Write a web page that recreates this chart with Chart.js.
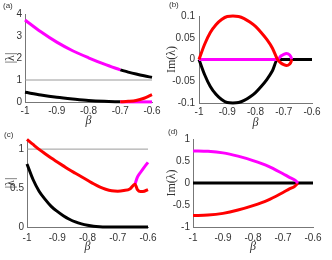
<!DOCTYPE html>
<html>
<head>
<meta charset="utf-8">
<script src="https://cdn.jsdelivr.net/npm/chart.js@4.4.1/dist/chart.umd.min.js"></script>
<style>
  body { margin: 0; background: #fff; }
  #wrap { position: relative; width: 332px; height: 260px; overflow: hidden; }
  canvas { position: absolute; }
  .lbl { position: absolute; font: 8px "Liberation Sans", Arial, sans-serif; color: #333; }
</style>
</head>
<body>
<div id="wrap">
  <canvas id="pa" width="166" height="130" style="left:0;top:0"></canvas>
  <canvas id="pb" width="166" height="130" style="left:166px;top:0"></canvas>
  <canvas id="pc" width="166" height="130" style="left:0;top:130px"></canvas>
  <canvas id="pd" width="166" height="130" style="left:166px;top:130px"></canvas>
  <div class="lbl" style="left:3px;top:1px">(a)</div>
  <div class="lbl" style="left:169px;top:0px">(b)</div>
  <div class="lbl" style="left:4px;top:130px">(c)</div>
  <div class="lbl" style="left:168px;top:127px">(d)</div>
</div>
<script>
// shared x axis
const xTicks = [-1, -0.9, -0.8, -0.7, -0.6];
const refBeta = [-1, -0.6];
const refOne = [1, 1];

// (a) |lambda|
const aYTicks = [0, 1, 2, 3, 4];
const aMagBeta = [-1, -0.95, -0.9, -0.85, -0.8, -0.75, -0.7];
const aMag = [3.73, 3.19, 2.72, 2.33, 2.01, 1.72, 1.46];
const aBlackHiBeta = [-0.7, -0.675, -0.65, -0.625, -0.6];
const aBlackHi = [1.46, 1.36, 1.27, 1.19, 1.12];
const aBlackLoBeta = [-1, -0.95, -0.9, -0.85, -0.8, -0.75, -0.7];
const aBlackLo = [0.44, 0.32, 0.22, 0.14, 0.07, 0.03, 0.01];
const aRedBeta = [-0.7, -0.675, -0.65, -0.625, -0.6];
const aRed = [0.01, 0.03, 0.07, 0.17, 0.33];
const aMagLoBeta = [-0.7, -0.6];
const aMagLo = [0.005, 0.005];

// (b) Im(lambda)
const bYTicks = [-0.1, -0.05, 0, 0.05, 0.1];
const bRedBeta = [-1, -0.98, -0.96, -0.94, -0.92, -0.9, -0.88, -0.86, -0.84, -0.82, -0.8, -0.78, -0.76, -0.74, -0.722, -0.71, -0.7, -0.69, -0.68, -0.674, -0.672];
const bRed = [0, 0.035, 0.062, 0.08, 0.092, 0.099, 0.1, 0.099, 0.094, 0.086, 0.076, 0.062, 0.046, 0.026, 0, -0.008, -0.012, -0.014, -0.011, -0.005, 0];
const bBlackBeta = [-1, -0.98, -0.96, -0.94, -0.92, -0.9, -0.88, -0.86, -0.84, -0.82, -0.8, -0.78, -0.76, -0.74, -0.722, -0.6];
const bBlack = [0, -0.035, -0.062, -0.08, -0.092, -0.099, -0.1, -0.099, -0.094, -0.086, -0.076, -0.062, -0.046, -0.026, 0, 0];
const bMagBeta = [-1, -0.722, -0.71, -0.7, -0.69, -0.68, -0.674, -0.672];
const bMag = [0, 0, 0.008, 0.012, 0.014, 0.011, 0.005, 0];

// (c) |lambda|
const cYTicks = [0, 0.5, 1];
const cRedBeta = [-1, -0.98, -0.96, -0.94, -0.92, -0.9, -0.88, -0.86, -0.84, -0.82, -0.8, -0.78, -0.76, -0.74, -0.72, -0.7, -0.68, -0.66, -0.643, -0.635, -0.625, -0.612, -0.6];
const cRed = [1.125, 1.06, 0.997, 0.94, 0.885, 0.835, 0.785, 0.735, 0.69, 0.645, 0.6, 0.555, 0.515, 0.485, 0.465, 0.46, 0.468, 0.488, 0.55, 0.48, 0.455, 0.46, 0.48];
const cMagBeta = [-0.643, -0.635, -0.625, -0.614, -0.6];
const cMag = [0.55, 0.64, 0.7, 0.76, 0.83];
const cBlackBeta = [-1, -0.98, -0.96, -0.94, -0.92, -0.9, -0.88, -0.86, -0.84, -0.82, -0.8, -0.78, -0.76, -0.74, -0.7, -0.6];
const cBlack = [0.81, 0.61, 0.46, 0.355, 0.265, 0.2, 0.145, 0.1, 0.065, 0.04, 0.022, 0.01, 0.004, 0.001, 0, 0];

// (d) Im(lambda)
const dYTicks = [-1, -0.5, 0, 0.5, 1];
const dBeta = [-1, -0.95, -0.9, -0.85, -0.8, -0.75, -0.7, -0.68, -0.66, -0.65];
const dMag = [0.73, 0.72, 0.685, 0.61, 0.51, 0.385, 0.21, 0.135, 0.065, 0];
const dRed = [-0.74, -0.73, -0.69, -0.615, -0.515, -0.39, -0.215, -0.14, -0.07, 0];
const dBlackBeta = [-1, -0.6];
const dBlack = [0, 0];

const MAG = '#ff00ff', RED = '#ff0000', BLK = '#000000', GRAY = '#9a9a9a';
const AXIS = '#777777', TXT = '#333333';
const SANS = '"Liberation Sans", Arial, sans-serif';
const SERIF = '"Liberation Serif", "Times New Roman", serif';

function zip(xs, ys) {
  return xs.map((x, i) => ({ x: x, y: ys[i] }));
}

// first series ends up on top (chart.js draws datasets in reverse)
function makePanel(id, o) {
  new Chart(document.getElementById(id), {
    type: 'scatter',
    data: {
      datasets: o.series.map(s => ({
        data: zip(s[0], s[1]),
        borderColor: s[2],
        borderWidth: s[3] || 3,
        showLine: true,
        pointRadius: 0,
        fill: false,
        cubicInterpolationMode: 'monotone',
        clip: false
      }))
    },
    options: {
      responsive: false,
      animation: false,
      devicePixelRatio: 1,
      events: [],
      layout: { padding: { left: 0, top: o.top, right: o.right, bottom: 0 } },
      plugins: { legend: { display: false }, tooltip: { enabled: false } },
      scales: {
        x: {
          type: 'linear', min: -1, max: -0.6,
          afterFit: s => { s.height = o.xh; },
          afterBuildTicks: s => { s.ticks = xTicks.map(v => ({ value: v })); },
          grid: { display: false, drawTicks: false },
          border: { display: true, color: AXIS, width: 1 },
          ticks: { font: { family: SANS, size: 10 }, color: TXT, padding: o.xpad, maxRotation: 0, autoSkip: false, callback: v => String(v) },
          title: { display: true, text: 'β', color: TXT, font: { family: SERIF, size: 12, style: 'italic', lineHeight: 1 }, padding: { top: 0, bottom: o.bpad } }
        },
        y: {
          type: 'linear', min: o.ymin, max: o.ymax,
          afterFit: s => { s.width = o.yw; },
          afterBuildTicks: s => { s.ticks = o.yticks.map(v => ({ value: v })); },
          grid: { display: false, drawTicks: false },
          border: { display: true, color: AXIS, width: 1 },
          ticks: { font: { family: SANS, size: 10 }, color: TXT, padding: o.ypad, autoSkip: false, callback: v => String(v) },
          title: { display: true, text: o.ylabel, color: TXT, font: { family: SERIF, size: 12, lineHeight: 1 }, padding: { top: o.lpad, bottom: 0 } }
        }
      }
    }
  });
}

document.addEventListener('DOMContentLoaded', function () {
  /** ---------------- (a) ---------------- **/
  makePanel('pa', {
    ymin: 0, ymax: 4, yticks: aYTicks, ylabel: '|λ|',
    top: 14, right: 14, xh: 28, yw: 25, xpad: 3, ypad: 3, bpad: 3, lpad: 5,
    series: [
      [aRedBeta, aRed, RED],
      [aMagBeta, aMag, MAG],
      [aMagLoBeta, aMagLo, MAG],
      [aBlackHiBeta, aBlackHi, BLK],
      [aBlackLoBeta, aBlackLo, BLK],
      [refBeta, refOne, GRAY, 1]
    ]
  });

  /** ---------------- (b) ---------------- **/
  makePanel('pb', {
    ymin: -0.1, ymax: 0.1, yticks: bYTicks, ylabel: 'Im(λ)',
    top: 16, right: 20, xh: 27, yw: 33, xpad: 3, ypad: 4, bpad: 1, lpad: 0,
    series: [
      [bRedBeta, bRed, RED],
      [bMagBeta, bMag, MAG],
      [bBlackBeta, bBlack, BLK]
    ]
  });

  /** ---------------- (c) ---------------- **/
  makePanel('pc', {
    ymin: 0, ymax: 1.13, yticks: cYTicks, ylabel: '|λ|',
    top: 7, right: 18, xh: 33, yw: 27, xpad: 5, ypad: 3, bpad: 7, lpad: 5,
    series: [
      [cRedBeta, cRed, RED],
      [cMagBeta, cMag, MAG],
      [cBlackBeta, cBlack, BLK],
      [refBeta, refOne, GRAY, 1]
    ]
  });

  /** ---------------- (d) ---------------- **/
  makePanel('pd', {
    ymin: -1, ymax: 1, yticks: dYTicks, ylabel: 'Im(λ)',
    top: 7, right: 19, xh: 33, yw: 27, xpad: 5, ypad: 3, bpad: 7, lpad: 0,
    series: [
      [dBeta, dMag, MAG],
      [dBeta, dRed, RED],
      [dBlackBeta, dBlack, BLK]
    ]
  });
});
</script>
</body>
</html>
